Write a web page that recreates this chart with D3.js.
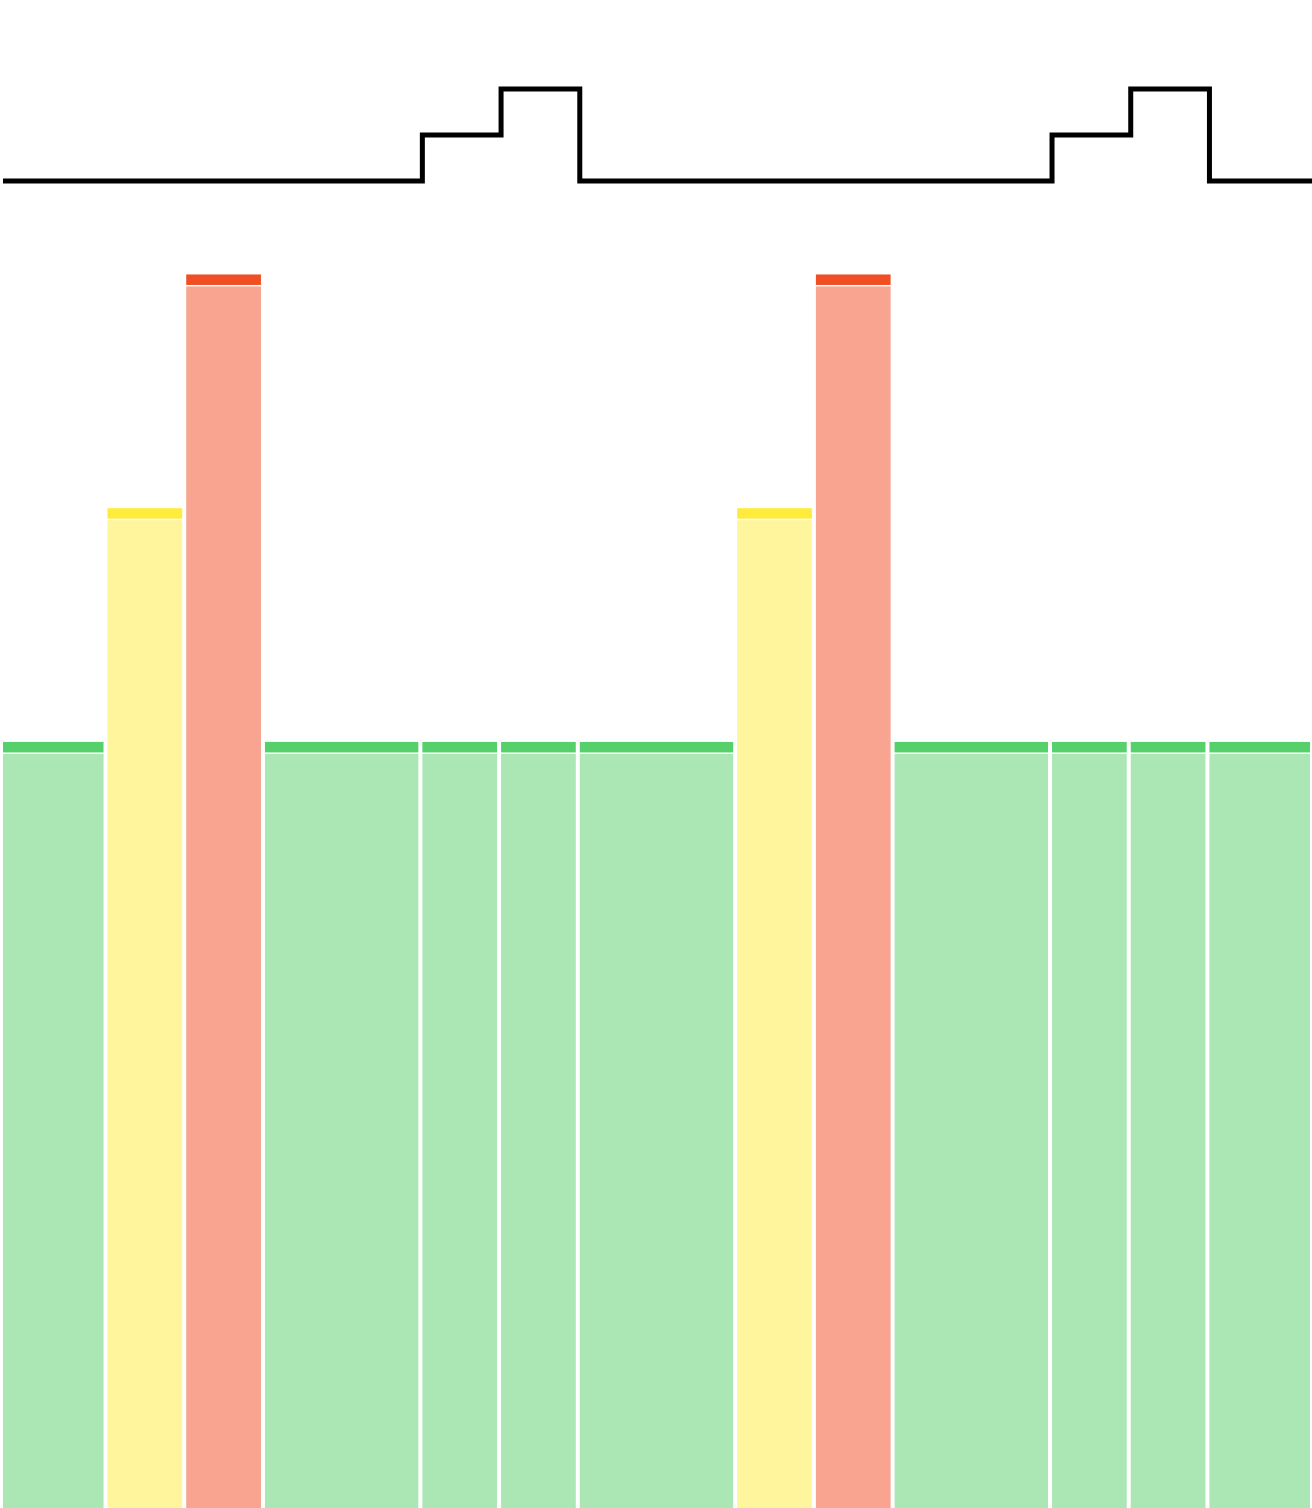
<!DOCTYPE html>
<html>
<head>
<meta charset="utf-8">
<script src="https://cdn.jsdelivr.net/npm/d3@7"></script>
<style>
  body { margin: 0; background: #fff; }
  svg { display: block; }
</style>
</head>
<body>
<svg id="chart"></svg>
<script>
var width = 1312;
var height = 1508;

// segments (hours) and their status
var segStart  = [0, 2, 3, 4, 6, 7, 8, 10, 11, 12, 14, 15, 16];
var segEnd    = [2, 3, 4, 6, 7, 8, 10, 11, 12, 14, 15, 16, 18];
var segStatus = ["ok", "warn", "alert", "ok", "ok", "ok", "ok", "warn", "alert", "ok", "ok", "ok", "ok"];
var segValue  = [50.8, 66.3, 81.8, 50.8, 50.8, 50.8, 50.8, 66.3, 81.8, 50.8, 50.8, 50.8, 50.8];

// step line
var stepTimes  = [0, 6, 7, 8, 14, 15, 16, 18];
var stepLevels = [0, 1, 2, 0, 1, 2, 0, 0];

var strongColor = { ok: "#55d06b", warn: "#ffeb3b", alert: "#f04e23" };
var lightColor  = { ok: "#aae7b4", warn: "#fff59d", alert: "#f8a490" };

var xScale = d3.scaleLinear().domain([0.672, 17.303]).range([3, width]);
var yScale = d3.scaleLinear().domain([0, 100]).range([height, 0]);
var lineY  = d3.scaleLinear().domain([0, 2]).range([181, 89]);

var svg = d3.select("#chart")
            .attr("width", width)
            .attr("height", height);

var segments = segStart.map(function(s, i) {
  return { start: s, end: segEnd[i], status: segStatus[i], value: segValue[i] };
});

var gap = 4;

function left(d) { return Math.max(xScale(d.start), 3); }
function right(d) { return Math.min(xScale(d.end) - gap, width - 2); }

var bars = svg.append("g").selectAll("g")
  .data(segments)
  .enter().append("g");

// light body of each bar
bars.append("rect")
    .attr("x", left)
    .attr("width", function(d) { return right(d) - left(d); })
    .attr("y", function(d) { return yScale(d.value) + 12; })
    .attr("height", function(d) { return height - yScale(d.value) - 12; })
    .attr("fill", function(d) { return lightColor[d.status]; });

// darker strip on top
bars.append("rect")
    .attr("x", left)
    .attr("width", function(d) { return right(d) - left(d); })
    .attr("y", function(d) { return yScale(d.value); })
    .attr("height", 10.5)
    .attr("fill", function(d) { return strongColor[d.status]; });

svg.append("clipPath")
    .attr("id", "line-clip")
  .append("rect")
    .attr("x", 3)
    .attr("y", 0)
    .attr("width", width - 3)
    .attr("height", height);

var line = d3.line()
             .curve(d3.curveStepAfter)
             .x(function(d, i) { return xScale(stepTimes[i]); })
             .y(function(d) { return lineY(d); });

svg.append("path")
    .datum(stepLevels)
    .attr("d", line)
    .attr("clip-path", "url(#line-clip)")
    .attr("fill", "none")
    .attr("stroke", "#000")
    .attr("stroke-width", 5);
</script>
</body>
</html>
